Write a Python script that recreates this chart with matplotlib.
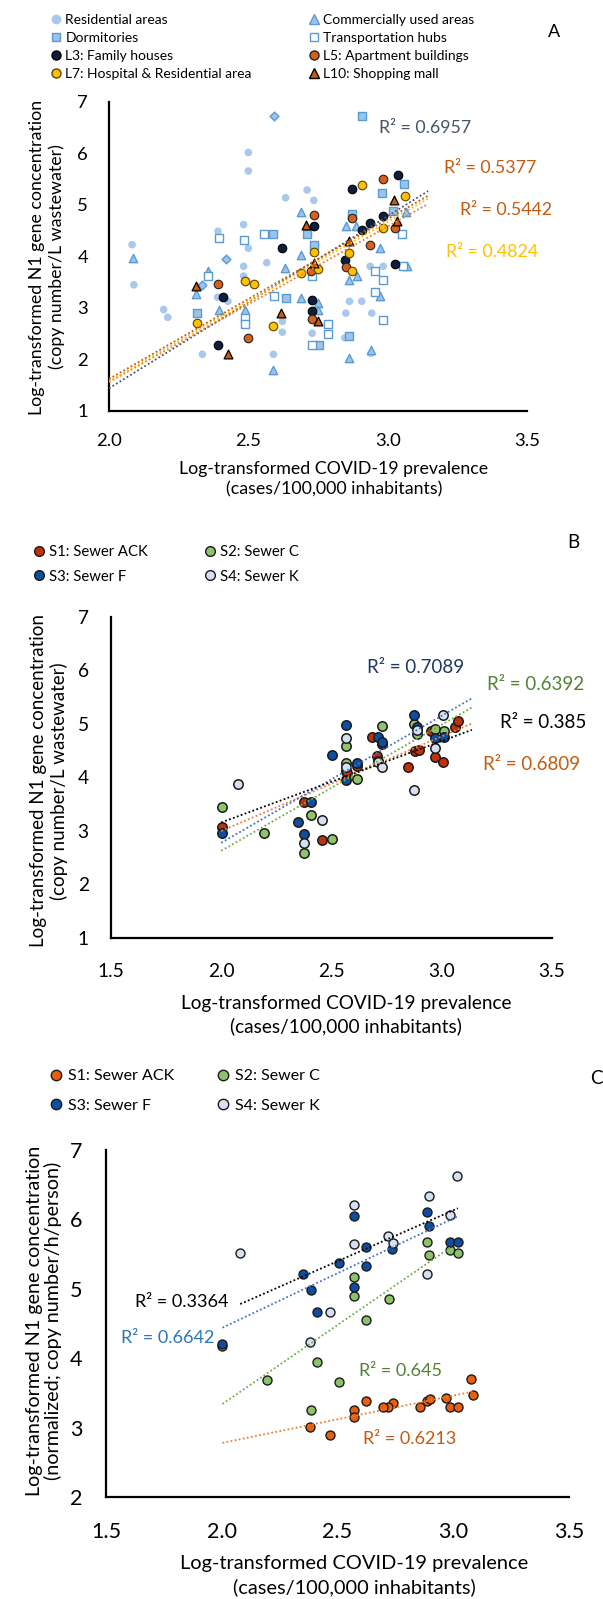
#!/usr/bin/env python3
import matplotlib
matplotlib.use("Agg")
import matplotlib.pyplot as plt
from matplotlib.lines import Line2D
import numpy as np

# ---------------- panel A: sampling sites ----------------
res_x = [2.083, 2.089, 2.196, 2.211, 2.335, 2.391, 2.483, 2.50, 2.483, 2.566, 2.50, 2.50, 2.39, 2.427,
         2.483, 2.59, 2.634, 2.711, 2.735, 2.622, 2.622, 2.729, 2.863, 2.907, 2.85, 2.943, 2.846,
         2.937, 2.984, 2.94]
res_y = [4.23, 3.45, 2.97, 2.82, 2.10, 4.49, 4.62, 4.16, 3.81, 3.88, 6.02, 5.66, 3.21, 3.13,
         3.62, 2.10, 5.14, 5.29, 5.09, 2.74, 2.53, 2.51, 3.13, 3.13, 2.90, 2.90, 2.42,
         3.81, 3.81, 2.12]
com_x = [2.087, 2.312, 2.395, 2.489, 2.59, 2.356, 2.632, 2.688, 2.688, 2.688, 2.751, 2.751, 2.85,
         2.888, 2.861, 2.89, 2.973, 3.064, 3.068, 2.973, 2.862, 2.94]
com_y = [3.97, 3.28, 2.97, 2.97, 1.80, 3.72, 3.78, 4.87, 4.03, 3.19, 3.10, 2.97, 4.59,
         4.59, 3.55, 3.62, 4.17, 4.87, 3.81, 3.23, 2.03, 2.19]
dorm_x = [2.314, 2.59, 2.907, 2.634, 2.711, 2.735, 2.872, 2.98, 3.06, 2.863, 3.02, 2.753]
dorm_y = [2.90, 4.43, 6.73, 3.19, 4.43, 4.23, 4.82, 5.24, 5.40, 2.45, 4.88, 2.29]
hub_x = [2.395, 2.483, 2.558, 2.356, 2.489, 2.489, 2.593, 2.727, 2.727, 2.787, 2.787, 2.955, 2.984,
         2.955, 2.984, 3.05, 3.056]
hub_y = [4.35, 4.32, 4.43, 3.62, 2.80, 2.68, 3.24, 3.62, 2.29, 2.69, 2.49, 3.71, 3.55,
         3.32, 2.77, 4.43, 3.81]
dia_x = [2.593, 2.419, 2.332]
dia_y = [6.73, 3.95, 3.45]
l3_x = [2.409, 2.391, 2.622, 2.735, 2.872, 3.038, 2.984, 2.937, 2.907, 2.846, 2.727, 2.727, 3.026]
l3_y = [3.21, 2.29, 4.16, 4.59, 5.31, 5.58, 4.79, 4.66, 4.51, 3.94, 3.16, 2.95, 3.86]
l5_x = [2.391, 2.499, 2.735, 2.872, 2.984, 2.937, 3.026, 2.85, 2.724, 2.727]
l5_y = [3.47, 2.42, 4.81, 4.75, 5.50, 4.22, 4.56, 3.79, 3.71, 2.79]
l7_x = [2.314, 2.489, 2.52, 2.59, 2.907, 3.062, 2.984, 2.735, 2.862, 2.751, 2.688, 2.872]
l7_y = [2.71, 3.52, 3.47, 2.66, 5.39, 5.17, 4.56, 4.09, 4.07, 3.75, 3.67, 3.71]
l10_x = [2.312, 2.427, 2.708, 3.023, 3.035, 2.861, 2.735, 2.617, 2.751]
l10_y = [3.42, 2.10, 4.62, 5.09, 4.69, 4.30, 3.88, 2.90, 2.75]

a_fit_x = [2.0, 3.145]
a_fit_slope = [3.345, 3.109, 3.022, 3.092]
a_fit_icpt = [-5.25, -4.598, -4.484, -4.603]
a_fit_color = ["#44546A", "#C55A11", "#ED7D31", "#FFC000"]
a_r2_text = ["R² = 0.6957", "R² = 0.5377", "R² = 0.5442", "R² = 0.4824"]
a_r2_x = [2.969, 3.202, 3.259, 3.209]
a_r2_y = [6.50, 5.72, 4.90, 4.09]
a_r2_color = ["#44546A", "#C55A11", "#C55A11", "#FFC000"]

# ---------------- panel B: sewers, concentration ----------------
b_s1_x = [2.003, 2.376, 2.459, 2.685, 2.727, 2.707, 2.568, 2.617, 2.848, 2.878, 2.896, 2.952, 2.971,
          3.006, 3.062, 3.074, 2.569]
b_s1_y = [3.08, 3.55, 2.83, 4.75, 4.63, 4.41, 4.13, 4.21, 4.20, 4.50, 4.51, 4.86, 4.39,
          4.29, 4.94, 5.05, 4.08]
b_s2_x = [2.003, 2.193, 2.376, 2.409, 2.5, 2.568, 2.568, 2.617, 2.727, 2.712, 2.875, 2.889, 2.971, 3.009]
b_s2_y = [3.44, 2.96, 2.59, 3.30, 2.85, 4.59, 4.27, 3.98, 4.97, 4.31, 5.00, 4.81, 4.91, 4.86]
b_s3_x = [2.003, 2.346, 2.376, 2.409, 2.5, 2.564, 2.568, 2.617, 2.71, 2.73, 2.873, 2.889, 2.971, 3.009]
b_s3_y = [2.96, 3.16, 2.94, 3.55, 4.42, 4.99, 3.96, 4.27, 4.75, 4.66, 5.16, 4.95, 4.73, 4.75]
b_s4_x = [2.078, 2.376, 2.459, 2.564, 2.568, 2.71, 2.727, 2.873, 2.889, 2.971, 3.006]
b_s4_y = [3.88, 2.78, 3.20, 4.74, 4.20, 4.29, 4.19, 3.77, 4.88, 4.56, 5.16]

b_fit_x = [2.0, 3.137]
b_fit_slope = [1.768, 2.357, 2.375, 1.522]   # S1, S2, S3, S4
b_fit_icpt = [-0.536, -2.084, -1.97, 0.116]
b_fit_color = ["#ED7D31", "#70AD47", "#4472C4", "#000000"]
b_r2_text = ["R² = 0.6809", "R² = 0.6392", "R² = 0.7089", "R² = 0.385"]
b_r2_x = [3.187, 3.203, 2.661, 3.264]
b_r2_y = [4.235, 5.73, 6.065, 5.02]
b_r2_color = ["#C55A11", "#548235", "#1F3864", "#000000"]

# ---------------- panel C: sewers, normalized ----------------
c_s1_x = [3.075, 3.087, 2.97, 2.987, 3.02, 2.886, 2.9, 2.858, 2.741, 2.716, 2.695, 2.625, 2.572, 2.572,
          2.381, 2.468]
c_s1_y = [3.70, 3.47, 3.43, 3.29, 3.30, 3.38, 3.41, 3.29, 3.35, 3.29, 3.29, 3.38, 3.26, 3.15,
          3.01, 2.89]
c_s2_x = [2.886, 2.897, 2.987, 3.02, 2.572, 2.572, 2.721, 2.625, 2.003, 2.413, 2.195, 2.507, 2.384]
c_s2_y = [5.68, 5.48, 5.56, 5.51, 5.17, 4.90, 4.85, 4.55, 4.17, 3.95, 3.68, 3.65, 3.26]
c_s3_x = [2.572, 2.886, 2.897, 2.625, 2.735, 2.987, 3.02, 2.507, 2.625, 2.352, 2.384, 2.572, 2.413, 2.003]
c_s3_y = [6.05, 6.10, 5.91, 5.60, 5.57, 5.68, 5.68, 5.37, 5.33, 5.21, 4.98, 5.02, 4.66, 4.21]
c_s4_x = [3.017, 2.897, 2.572, 2.987, 2.716, 2.738, 2.572, 2.08, 2.886, 2.468, 2.381]
c_s4_y = [6.63, 6.34, 6.21, 6.06, 5.76, 5.66, 5.65, 5.51, 5.22, 4.66, 4.24]

c_fit_x0 = [2.003, 2.003, 2.003, 2.08]
c_fit_x1 = [3.087, 2.99, 3.017, 3.02]
c_fit_slope = [0.683, 2.29, 1.578, 1.468]
c_fit_icpt = [1.412, -1.247, 1.279, 1.727]
c_fit_color = ["#ED7D31", "#70AD47", "#4472C4", "#000000"]
c_r2_text = ["R² = 0.6213", "R² = 0.645", "R² = 0.6642", "R² = 0.3364"]
c_r2_x = [2.612, 2.595, 1.565, 1.624]
c_r2_y = [2.832, 3.816, 4.297, 4.815]
c_r2_color = ["#C55A11", "#548235", "#2E75B6", "#000000"]

sewer_labels = ["S1: Sewer ACK", "S2: Sewer C", "S3: Sewer F", "S4: Sewer K"]

W, H = 603, 1599
plt.rcParams.update({
    "font.family": ["Lato", "DejaVu Sans"],
    "axes.linewidth": 1.6,
    "savefig.dpi": 100,
})

fig = plt.figure(figsize=(W / 100, H / 100), dpi=100)


def add_axes_px(x0, x1, y_top, y_bot):
    return fig.add_axes([x0 / W, 1 - y_bot / H, (x1 - x0) / W, (y_bot - y_top) / H])


def style_axes(ax, xlim, ylim, xticks, yticks, fs, xpad, ypad):
    ax.set_xlim(*xlim)
    ax.set_ylim(*ylim)
    ax.spines["top"].set_visible(False)
    ax.spines["right"].set_visible(False)
    ax.set_xticks(xticks)
    ax.set_xticklabels([f"{t:.1f}" for t in xticks])
    ax.set_yticks(yticks)
    ax.set_yticklabels([str(t) for t in yticks])
    ax.tick_params(axis="both", length=0, labelsize=fs)
    ax.tick_params(axis="x", pad=xpad)
    ax.tick_params(axis="y", pad=ypad)
    ax.set_facecolor("none")


def fig_text(x, y, s, **kw):
    fig.text(x / W, 1 - y / H, s, **kw)


def dotted(ax, xs, ys, color):
    ax.plot(xs, ys, color=color, lw=1.3, linestyle=(0, (1, 1.3)), zorder=4)


def add_legend(handles, labels, x_left, y_top, fs, spacing):
    return fig.legend(handles, labels, loc="upper left", bbox_to_anchor=(x_left / W, 1 - y_top / H),
                      frameon=False, fontsize=fs, handlelength=0.8, handletextpad=0.3,
                      borderpad=0, borderaxespad=0, labelspacing=spacing, handleheight=0.7)


# ---------------- panel A ----------------
axA = add_axes_px(109, 527, 102, 411)
style_axes(axA, (2.0, 3.5), (1, 7), [2.0, 2.5, 3.0, 3.5], [1, 2, 3, 4, 5, 6, 7], 13.3, 16, 15)

lb_fill, lb_edge, res_col = "#9DC3E6", "#5B9BD5", "#A9C8EA"
axA.scatter(res_x, res_y, s=30, marker="o", color=res_col, edgecolors="none", zorder=2)
axA.scatter(com_x, com_y, s=36, marker="^", color=lb_fill, edgecolors=lb_edge, linewidths=1.0, zorder=2)
axA.scatter(dorm_x, dorm_y, s=30, marker="s", color=lb_fill, edgecolors=lb_edge, linewidths=1.0, zorder=2)
axA.scatter(hub_x, hub_y, s=30, marker="s", color="white", edgecolors=lb_edge, linewidths=1.0, zorder=2)
axA.scatter(dia_x, dia_y, s=20, marker="D", color=lb_fill, edgecolors=lb_edge, linewidths=1.0, zorder=2)
axA.scatter(l3_x, l3_y, s=38, marker="o", color="#0C1F3F", edgecolors="#000000", linewidths=0.8, zorder=3)
axA.scatter(l5_x, l5_y, s=38, marker="o", color="#D9601A", edgecolors="#222222", linewidths=0.8, zorder=3)
axA.scatter(l7_x, l7_y, s=38, marker="o", color="#FFC000", edgecolors="#5a4500", linewidths=0.8, zorder=3)
axA.scatter(l10_x, l10_y, s=40, marker="^", color="#C55A11", edgecolors="#000000", linewidths=0.9, zorder=3)

fx = np.array(a_fit_x)
for m, b, c in zip(a_fit_slope, a_fit_icpt, a_fit_color):
    dotted(axA, fx, m * fx + b, c)
for t, x, y, c in zip(a_r2_text, a_r2_x, a_r2_y, a_r2_color):
    axA.text(x, y, t, color=c, fontsize=12.8, ha="left", va="center", clip_on=False)

hA_left = [
    Line2D([], [], ls="none", marker="o", ms=6, mfc=res_col, mec=res_col),
    Line2D([], [], ls="none", marker="s", ms=6, mfc=lb_fill, mec=lb_edge),
    Line2D([], [], ls="none", marker="o", ms=6.5, mfc="#0C1F3F", mec="#000000"),
    Line2D([], [], ls="none", marker="o", ms=6.5, mfc="#FFC000", mec="#5a4500"),
]
lA_left = ["Residential areas", "Dormitories", "L3: Family houses", "L7: Hospital & Residential area"]
hA_right = [
    Line2D([], [], ls="none", marker="^", ms=6.5, mfc=lb_fill, mec=lb_edge),
    Line2D([], [], ls="none", marker="s", ms=6, mfc="white", mec=lb_edge),
    Line2D([], [], ls="none", marker="o", ms=6.5, mfc="#D9601A", mec="#222222"),
    Line2D([], [], ls="none", marker="^", ms=6.5, mfc="#C55A11", mec="#000000"),
]
lA_right = ["Commercially used areas", "Transportation hubs", "L5: Apartment buildings", "L10: Shopping mall"]

add_legend(hA_left, lA_left, 50, 14, 10, 0.42)
add_legend(hA_right, lA_right, 308, 14, 10, 0.42)
fig_text(554, 32, "A", fontsize=13, ha="center", va="center")

fig_text(47, 257, "Log-transformed N1 gene concentration\n(copy number/L wastewater)",
         rotation=90, ha="center", va="center", fontsize=12.8, linespacing=1.28, multialignment="center")
fig_text(334, 479, "Log-transformed COVID-19 prevalence\n(cases/100,000 inhabitants)",
         ha="center", va="center", fontsize=12.8, linespacing=1.32, multialignment="center")

# ---------------- panel B ----------------
axB = add_axes_px(111, 552, 617, 938)
style_axes(axB, (1.5, 3.5), (1, 7), [1.5, 2.0, 2.5, 3.0, 3.5], [1, 2, 3, 4, 5, 6, 7], 13.8, 18, 16)
b_colors = ["#C0300A", "#8FC36C", "#0B4EA2", "#D5E1F3"]
for xs, ys, c in zip([b_s1_x, b_s2_x, b_s3_x, b_s4_x], [b_s1_y, b_s2_y, b_s3_y, b_s4_y], b_colors):
    axB.scatter(xs, ys, s=46, color=c, edgecolors="#1a1a1a", linewidths=1.1, zorder=2)
fx = np.array(b_fit_x)
for m, b, c in zip(b_fit_slope, b_fit_icpt, b_fit_color):
    dotted(axB, fx, m * fx + b, c)
for t, x, y, c in zip(b_r2_text, b_r2_x, b_r2_y, b_r2_color):
    axB.text(x, y, t, color=c, fontsize=13.5, ha="left", va="center", clip_on=False)

hB = [Line2D([], [], ls="none", marker="o", ms=7, mfc=c, mec="#1a1a1a", mew=1.0) for c in b_colors]
add_legend([hB[0], hB[2]], [sewer_labels[0], sewer_labels[2]], 33, 545, 10.7, 0.72)
add_legend([hB[1], hB[3]], [sewer_labels[1], sewer_labels[3]], 204, 545, 10.7, 0.72)
fig_text(573, 542, "B", fontsize=13.5, ha="center", va="center")

fig_text(49, 781, "Log-transformed N1 gene concentration\n(copy number/L wastewater)",
         rotation=90, ha="center", va="center", fontsize=13.5, linespacing=1.2, multialignment="center")
fig_text(346, 1015, "Log-transformed COVID-19 prevalence\n(cases/100,000 inhabitants)",
         ha="center", va="center", fontsize=13.7, linespacing=1.38, multialignment="center")

# ---------------- panel C ----------------
axC = add_axes_px(106, 569, 1150, 1497)
style_axes(axC, (1.5, 3.5), (2, 7), [1.5, 2.0, 2.5, 3.0, 3.5], [2, 3, 4, 5, 6, 7], 15.5, 18, 17)
c_colors = ["#E8600F", "#8CC26A", "#0B4EA2", "#D5E1F3"]
for xs, ys, c in zip([c_s1_x, c_s2_x, c_s3_x, c_s4_x], [c_s1_y, c_s2_y, c_s3_y, c_s4_y], c_colors):
    axC.scatter(xs, ys, s=42, color=c, edgecolors="#1a1a1a", linewidths=1.0, zorder=2)
for x0, x1, m, b, c in zip(c_fit_x0, c_fit_x1, c_fit_slope, c_fit_icpt, c_fit_color):
    fx = np.array([x0, x1])
    dotted(axC, fx, m * fx + b, c)
for t, x, y, c in zip(c_r2_text, c_r2_x, c_r2_y, c_r2_color):
    axC.text(x, y, t, color=c, fontsize=13, ha="left", va="center", clip_on=False)

hC = [Line2D([], [], ls="none", marker="o", ms=7.5, mfc=c, mec="#1a1a1a", mew=1.0) for c in c_colors]
add_legend([hC[0], hC[2]], [sewer_labels[0], sewer_labels[2]], 50, 1069, 11.5, 0.95)
add_legend([hC[1], hC[3]], [sewer_labels[1], sewer_labels[3]], 217, 1069, 11.5, 0.95)
fig_text(596, 1078, "C", fontsize=13.5, ha="center", va="center")

fig_text(44, 1321, "Log-transformed N1 gene concentration\n(normalized; copy number/h/person)",
         rotation=90, ha="center", va="center", fontsize=14.2, linespacing=1.12, multialignment="center")
fig_text(354, 1576, "Log-transformed COVID-19 prevalence\n(cases/100,000 inhabitants)",
         ha="center", va="center", fontsize=14.4, linespacing=1.42, multialignment="center")

fig.savefig("out.png", dpi=100, facecolor="white")
